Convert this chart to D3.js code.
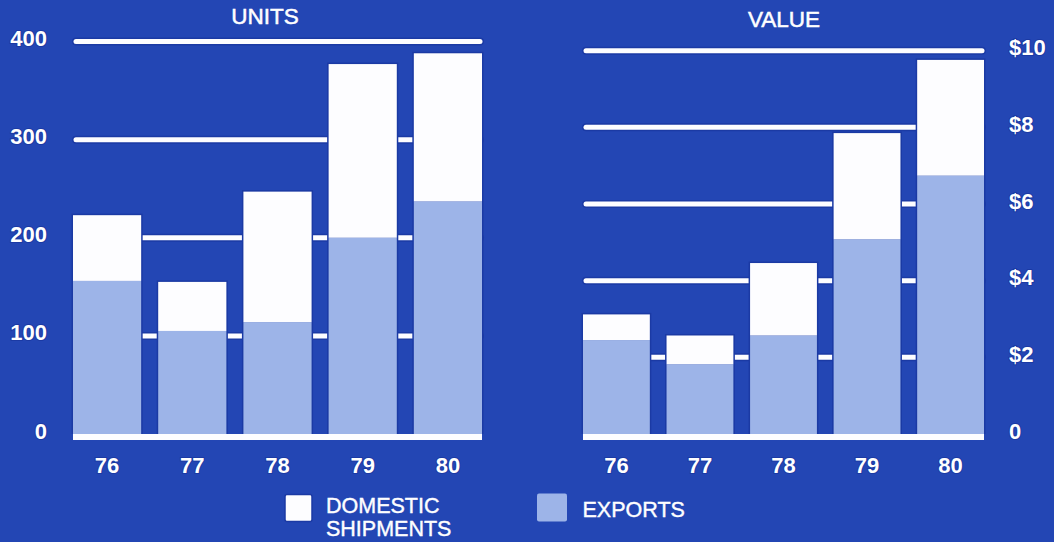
<!DOCTYPE html>
<html>
<head>
<meta charset="utf-8">
<script src="https://cdn.jsdelivr.net/npm/d3@7"></script>
<style>
  html, body { margin: 0; padding: 0; background: #2346b4; }
  svg { display: block; }
  text { font-family: "Liberation Sans", Arial, Helvetica, sans-serif; fill: #ffffff; }
</style>
</head>
<body>
<svg id="chart" width="1054" height="542"></svg>
<script>
// ---- data ----
const years = ["76", "77", "78", "79", "80"];
const unitsExports  = [156, 105, 114, 200, 237];
const unitsDomestic = [67, 50, 133, 177, 151];
const valueExports  = [2.45, 1.82, 2.57, 5.08, 6.74];
const valueDomestic = [0.67, 0.75, 1.89, 2.77, 3.02];
const unitsTicks = [0, 100, 200, 300, 400];
const unitsTickLabels = ["0", "100", "200", "300", "400"];
const valueTicks = [0, 2, 4, 6, 8, 10];
const valueTickLabels = ["0", "$2", "$4", "$6", "$8", "$10"];
const seriesNames = ["DOMESTIC SHIPMENTS", "EXPORTS"];

// ---- style ----
const BG = "#2346b4";
const HALO = "#1b3aa4";
const WHITE = "#fdfdff";
const LIGHT = "#9db4e8";

const svg = d3.select("#chart");
svg.append("rect").attr("width", 1054).attr("height", 542).attr("fill", BG);

function panel(opts) {
  const g = svg.append("g");
  const x = d3.scaleBand().domain(years).range(opts.xRange).paddingInner(0.2).paddingOuter(0);
  const y = d3.scaleLinear().domain(opts.domain).range([434, opts.yTop]);

  const rows = years.map((yr, i) => ({ year: yr, exports: opts.exports[i], domestic: opts.domestic[i] }));
  const stack = d3.stack().keys(["exports", "domestic"])(rows);

  // gridlines (behind bars), with halo
  const grid = opts.ticks.filter(t => t !== 0);
  [[HALO, 8], [WHITE, 5]].forEach(([c, w]) => {
    g.append("g").selectAll("line").data(grid).join("line")
      .attr("x1", opts.gridX[0]).attr("x2", opts.gridX[1])
      .attr("y1", d => y(d)).attr("y2", d => y(d))
      .attr("stroke", c).attr("stroke-width", w).attr("stroke-linecap", "round");
  });

  // bar halos
  g.append("g").selectAll("rect").data(rows).join("rect")
    .attr("x", d => x(d.year) - 1.5)
    .attr("width", x.bandwidth() + 3)
    .attr("y", d => y(d.exports + d.domestic) - 1.5)
    .attr("height", d => y(0) - y(d.exports + d.domestic) + 1.5)
    .attr("fill", HALO);

  // stacked bars
  const colors = { exports: LIGHT, domestic: WHITE };
  g.append("g").selectAll("g").data(stack).join("g")
    .attr("fill", d => colors[d.key])
    .selectAll("rect").data(d => d).join("rect")
      .attr("x", d => x(d.data.year))
      .attr("width", x.bandwidth())
      .attr("y", d => y(d[1]))
      .attr("height", d => y(d[0]) - y(d[1]));

  // baseline
  g.append("line")
    .attr("x1", opts.baseX[0]).attr("x2", opts.baseX[1])
    .attr("y1", 437).attr("y2", 437)
    .attr("stroke", WHITE).attr("stroke-width", 6);

  // y axis labels
  const axis = (opts.side === "left" ? d3.axisLeft(y) : d3.axisRight(y))
    .tickValues(opts.ticks)
    .tickFormat((d, i) => opts.tickLabels[i])
    .tickSize(0).tickPadding(0);
  const ya = g.append("g").attr("transform", `translate(${opts.axisX},-3)`).call(axis);
  ya.select(".domain").remove();
  ya.selectAll("text")
    .attr("font-family", "'Liberation Sans', Arial, sans-serif")
    .attr("font-size", 22).attr("font-weight", "bold")
    .attr("fill", WHITE)
    .attr("stroke", HALO).attr("stroke-width", 2).attr("paint-order", "stroke");

  // x axis labels
  const xa = g.append("g").attr("transform", "translate(0,450)")
    .call(d3.axisBottom(x).tickSize(0).tickPadding(0));
  xa.select(".domain").remove();
  xa.selectAll("text")
    .attr("y", 23).attr("dy", 0)
    .attr("font-family", "'Liberation Sans', Arial, sans-serif")
    .attr("font-size", 22).attr("font-weight", "bold")
    .attr("fill", WHITE)
    .attr("stroke", HALO).attr("stroke-width", 2).attr("paint-order", "stroke");

  // title
  g.append("text").attr("x", opts.titleX).attr("y", opts.titleY)
    .attr("text-anchor", "middle").attr("font-size", 22.5)
    .attr("stroke", WHITE).attr("stroke-width", 0.5)
    .text(opts.title);
}

panel({
  title: "UNITS", titleX: 265, titleY: 24,
  xRange: [73, 482], domain: [0, 400], yTop: 41.5,
  exports: unitsExports, domestic: unitsDomestic,
  ticks: unitsTicks, tickLabels: unitsTickLabels,
  gridX: [76, 480], baseX: [73, 482],
  side: "left", axisX: 47
});

panel({
  title: "VALUE", titleX: 784, titleY: 26.5,
  xRange: [583, 984], domain: [0, 10], yTop: 50.7,
  exports: valueExports, domestic: valueDomestic,
  ticks: valueTicks, tickLabels: valueTickLabels,
  gridX: [586, 982], baseX: [583, 984],
  side: "right", axisX: 1009
});

// ---- legend ----
const legend = svg.append("g");
legend.append("rect").attr("x", 285).attr("y", 494.5).attr("width", 27).attr("height", 27)
  .attr("rx", 2).attr("fill", WHITE).attr("stroke", HALO).attr("stroke-width", 1.5);
legend.append("text").attr("x", 326).attr("y", 513).attr("font-size", 21.5)
  .attr("stroke", WHITE).attr("stroke-width", 0.4)
  .selectAll("tspan").data(["DOMESTIC", "SHIPMENTS"]).join("tspan")
    .attr("x", 326).attr("dy", (d, i) => i === 0 ? 0 : 23).text(d => d);
legend.append("rect").attr("x", 537).attr("y", 493.5).attr("width", 30).attr("height", 28)
  .attr("rx", 2).attr("fill", LIGHT);
legend.append("text").attr("x", 582.5).attr("y", 516.5).attr("font-size", 21.5)
  .attr("stroke", WHITE).attr("stroke-width", 0.4)
  .text(seriesNames[1]);
</script>
</body>
</html>
